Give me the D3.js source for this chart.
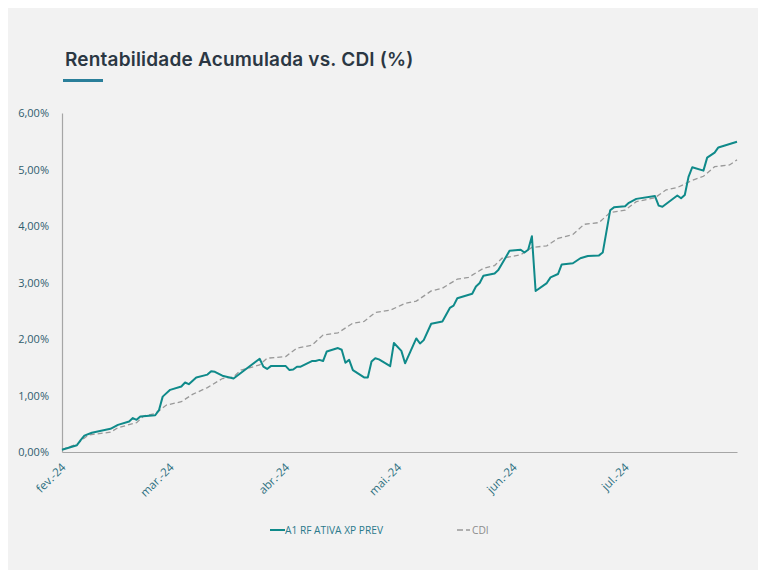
<!DOCTYPE html>
<html><head><meta charset="utf-8">
<script src="https://cdn.jsdelivr.net/npm/d3@7"></script>
<style>body{margin:0;background:#fff}svg{display:block}</style>
</head><body>
<script>
const title = "Rentabilidade Acumulada vs. CDI (%)";
const seriesNames = ["A1 RF ATIVA XP PREV", "CDI"];
const yTicks = [0, 1, 2, 3, 4, 5, 6];
const xTickDates = ["2024-02-01","2024-03-01","2024-04-01","2024-05-01","2024-06-01","2024-07-01"];
const xTickLabels = ["fev.-24","mar.-24","abr.-24","mai.-24","jun.-24","jul.-24"];

const fundDates = ["2024-02-01","2024-02-05","2024-02-06","2024-02-07","2024-02-09","2024-02-14","2024-02-16","2024-02-19","2024-02-20","2024-02-21","2024-02-22","2024-02-26","2024-02-27","2024-02-28","2024-03-01","2024-03-04","2024-03-05","2024-03-06","2024-03-08","2024-03-11","2024-03-12","2024-03-13","2024-03-15","2024-03-18","2024-03-21","2024-03-25","2024-03-26","2024-03-27","2024-03-28","2024-04-01","2024-04-02","2024-04-03","2024-04-04","2024-04-05","2024-04-08","2024-04-09","2024-04-10","2024-04-11","2024-04-12","2024-04-15","2024-04-16","2024-04-17","2024-04-18","2024-04-19","2024-04-22","2024-04-23","2024-04-24","2024-04-25","2024-04-26","2024-04-29","2024-04-30","2024-05-02","2024-05-03","2024-05-06","2024-05-07","2024-05-08","2024-05-10","2024-05-13","2024-05-15","2024-05-16","2024-05-17","2024-05-21","2024-05-22","2024-05-23","2024-05-24","2024-05-27","2024-05-28","2024-05-31","2024-06-03","2024-06-04","2024-06-05","2024-06-06","2024-06-07","2024-06-10","2024-06-11","2024-06-13","2024-06-14","2024-06-17","2024-06-19","2024-06-21","2024-06-24","2024-06-25","2024-06-27","2024-06-28","2024-07-01","2024-07-02","2024-07-04","2024-07-09","2024-07-10","2024-07-11","2024-07-15","2024-07-16","2024-07-17","2024-07-18","2024-07-19","2024-07-22","2024-07-23","2024-07-25","2024-07-26","2024-07-31"];
const fundValues = [0.04,0.12,0.21,0.29,0.34,0.41,0.48,0.54,0.60,0.57,0.63,0.65,0.74,0.98,1.10,1.16,1.23,1.20,1.32,1.37,1.43,1.42,1.35,1.30,1.45,1.65,1.51,1.47,1.52,1.52,1.45,1.46,1.51,1.51,1.61,1.61,1.63,1.61,1.78,1.84,1.81,1.58,1.63,1.45,1.32,1.32,1.60,1.66,1.64,1.52,1.93,1.79,1.57,2.01,1.92,1.98,2.27,2.31,2.55,2.59,2.72,2.80,2.93,2.99,3.12,3.16,3.22,3.56,3.58,3.53,3.58,3.82,2.85,2.99,3.09,3.15,3.32,3.34,3.43,3.47,3.48,3.53,4.28,4.33,4.35,4.41,4.48,4.53,4.36,4.34,4.54,4.49,4.55,4.87,5.04,4.98,5.21,5.30,5.39,5.49];

const cdiDates = ["2024-02-01","2024-02-05","2024-02-08","2024-02-14","2024-02-16","2024-02-21","2024-02-23","2024-02-26","2024-02-29","2024-03-04","2024-03-07","2024-03-11","2024-03-15","2024-03-18","2024-03-20","2024-03-25","2024-03-27","2024-04-01","2024-04-04","2024-04-08","2024-04-11","2024-04-15","2024-04-19","2024-04-22","2024-04-25","2024-04-29","2024-05-02","2024-05-03","2024-05-06","2024-05-10","2024-05-13","2024-05-17","2024-05-20","2024-05-24","2024-05-27","2024-05-29","2024-06-03","2024-06-06","2024-06-10","2024-06-13","2024-06-17","2024-06-20","2024-06-24","2024-06-27","2024-07-01","2024-07-04","2024-07-09","2024-07-12","2024-07-15","2024-07-19","2024-07-22","2024-07-25","2024-07-29","2024-07-31"];
const cdiValues = [0.04,0.14,0.30,0.35,0.43,0.52,0.64,0.68,0.83,0.89,1.02,1.14,1.30,1.33,1.45,1.54,1.66,1.69,1.84,1.89,2.07,2.11,2.28,2.31,2.47,2.51,2.60,2.63,2.67,2.85,2.90,3.06,3.09,3.25,3.30,3.43,3.49,3.62,3.65,3.78,3.85,4.03,4.06,4.24,4.28,4.43,4.50,4.64,4.68,4.81,4.88,5.05,5.08,5.17];

const W = 766, H = 578;
const parse = d3.utcParse("%Y-%m-%d");
const svg = d3.select("body").append("svg").attr("width", W).attr("height", H);
svg.append("rect").attr("x", 8).attr("y", 8).attr("width", 750).attr("height", 562).attr("fill", "#f2f2f2");

svg.append("text").attr("x", 65).attr("y", 66).text(title)
  .attr("font-family", "Inter, 'Open Sans', sans-serif").attr("font-weight", 600)
  .attr("font-size", 19).attr("letter-spacing", 0.2).attr("fill", "#2b3743");
svg.append("rect").attr("x", 63).attr("y", 79).attr("width", 40).attr("height", 3).attr("fill", "#2a7f9a");

const x = d3.scaleUtc().domain([parse("2024-02-01"), parse("2024-07-31")]).range([62, 737]);
const y = d3.scaleLinear().domain([0, 6]).range([452, 113]);

const fmt = v => d3.format(".2f")(v).replace(".", ",") + "%";

const yAxis = svg.append("g").attr("transform", "translate(62,0)")
  .call(d3.axisLeft(y).tickValues(yTicks).tickSize(0).tickPadding(13).tickFormat(fmt));
yAxis.select(".domain").attr("stroke", "#a6a6a6").attr("stroke-width", 1.2);
yAxis.selectAll("text").attr("font-family", "'Open Sans', sans-serif").attr("font-size", 11).attr("fill", "#2f5d6e");

const xAxis = svg.append("g").attr("transform", "translate(0,452)")
  .call(d3.axisBottom(x).tickValues(xTickDates.map(parse)).tickSize(0)
    .tickFormat((d, i) => xTickLabels[i]));
xAxis.select(".domain").attr("stroke", "#a6a6a6").attr("stroke-width", 1.2);
xAxis.selectAll("text").attr("font-family", "'Open Sans', sans-serif").attr("font-size", 11.5).attr("fill", "#2b6f80")
  .attr("text-anchor", "end").attr("dy", null).attr("y", 0)
  .attr("transform", "translate(4,16) rotate(-45)");

const line = d3.line().x(d => x(d[0])).y(d => y(d[1]));
const cdi = cdiDates.map((d, i) => [parse(d), cdiValues[i]]);
const fund = fundDates.map((d, i) => [parse(d), fundValues[i]]);

svg.append("path").datum(cdi).attr("d", line).attr("fill", "none")
  .attr("stroke", "#999999").attr("stroke-width", 1.3).attr("stroke-dasharray", "5,3");
svg.append("path").datum(fund).attr("d", line).attr("fill", "none")
  .attr("stroke", "#0f8a8a").attr("stroke-width", 2).attr("stroke-linejoin", "round");

const lg = svg.append("g");
lg.append("line").attr("x1", 270).attr("x2", 285).attr("y1", 530).attr("y2", 530)
  .attr("stroke", "#0f8a8a").attr("stroke-width", 2);
lg.append("text").attr("x", 285).attr("y", 534).text(seriesNames[0])
  .attr("font-family", "'Open Sans', sans-serif").attr("font-size", 10.2).attr("fill", "#2b7a8c");
lg.append("line").attr("x1", 457).attr("x2", 470).attr("y1", 530).attr("y2", 530)
  .attr("stroke", "#999999").attr("stroke-width", 1.3).attr("stroke-dasharray", "6,3");
lg.append("text").attr("x", 472).attr("y", 534).text(seriesNames[1])
  .attr("font-family", "'Open Sans', sans-serif").attr("font-size", 10.2).attr("fill", "#8c8c8c");
</script>
</body></html>
